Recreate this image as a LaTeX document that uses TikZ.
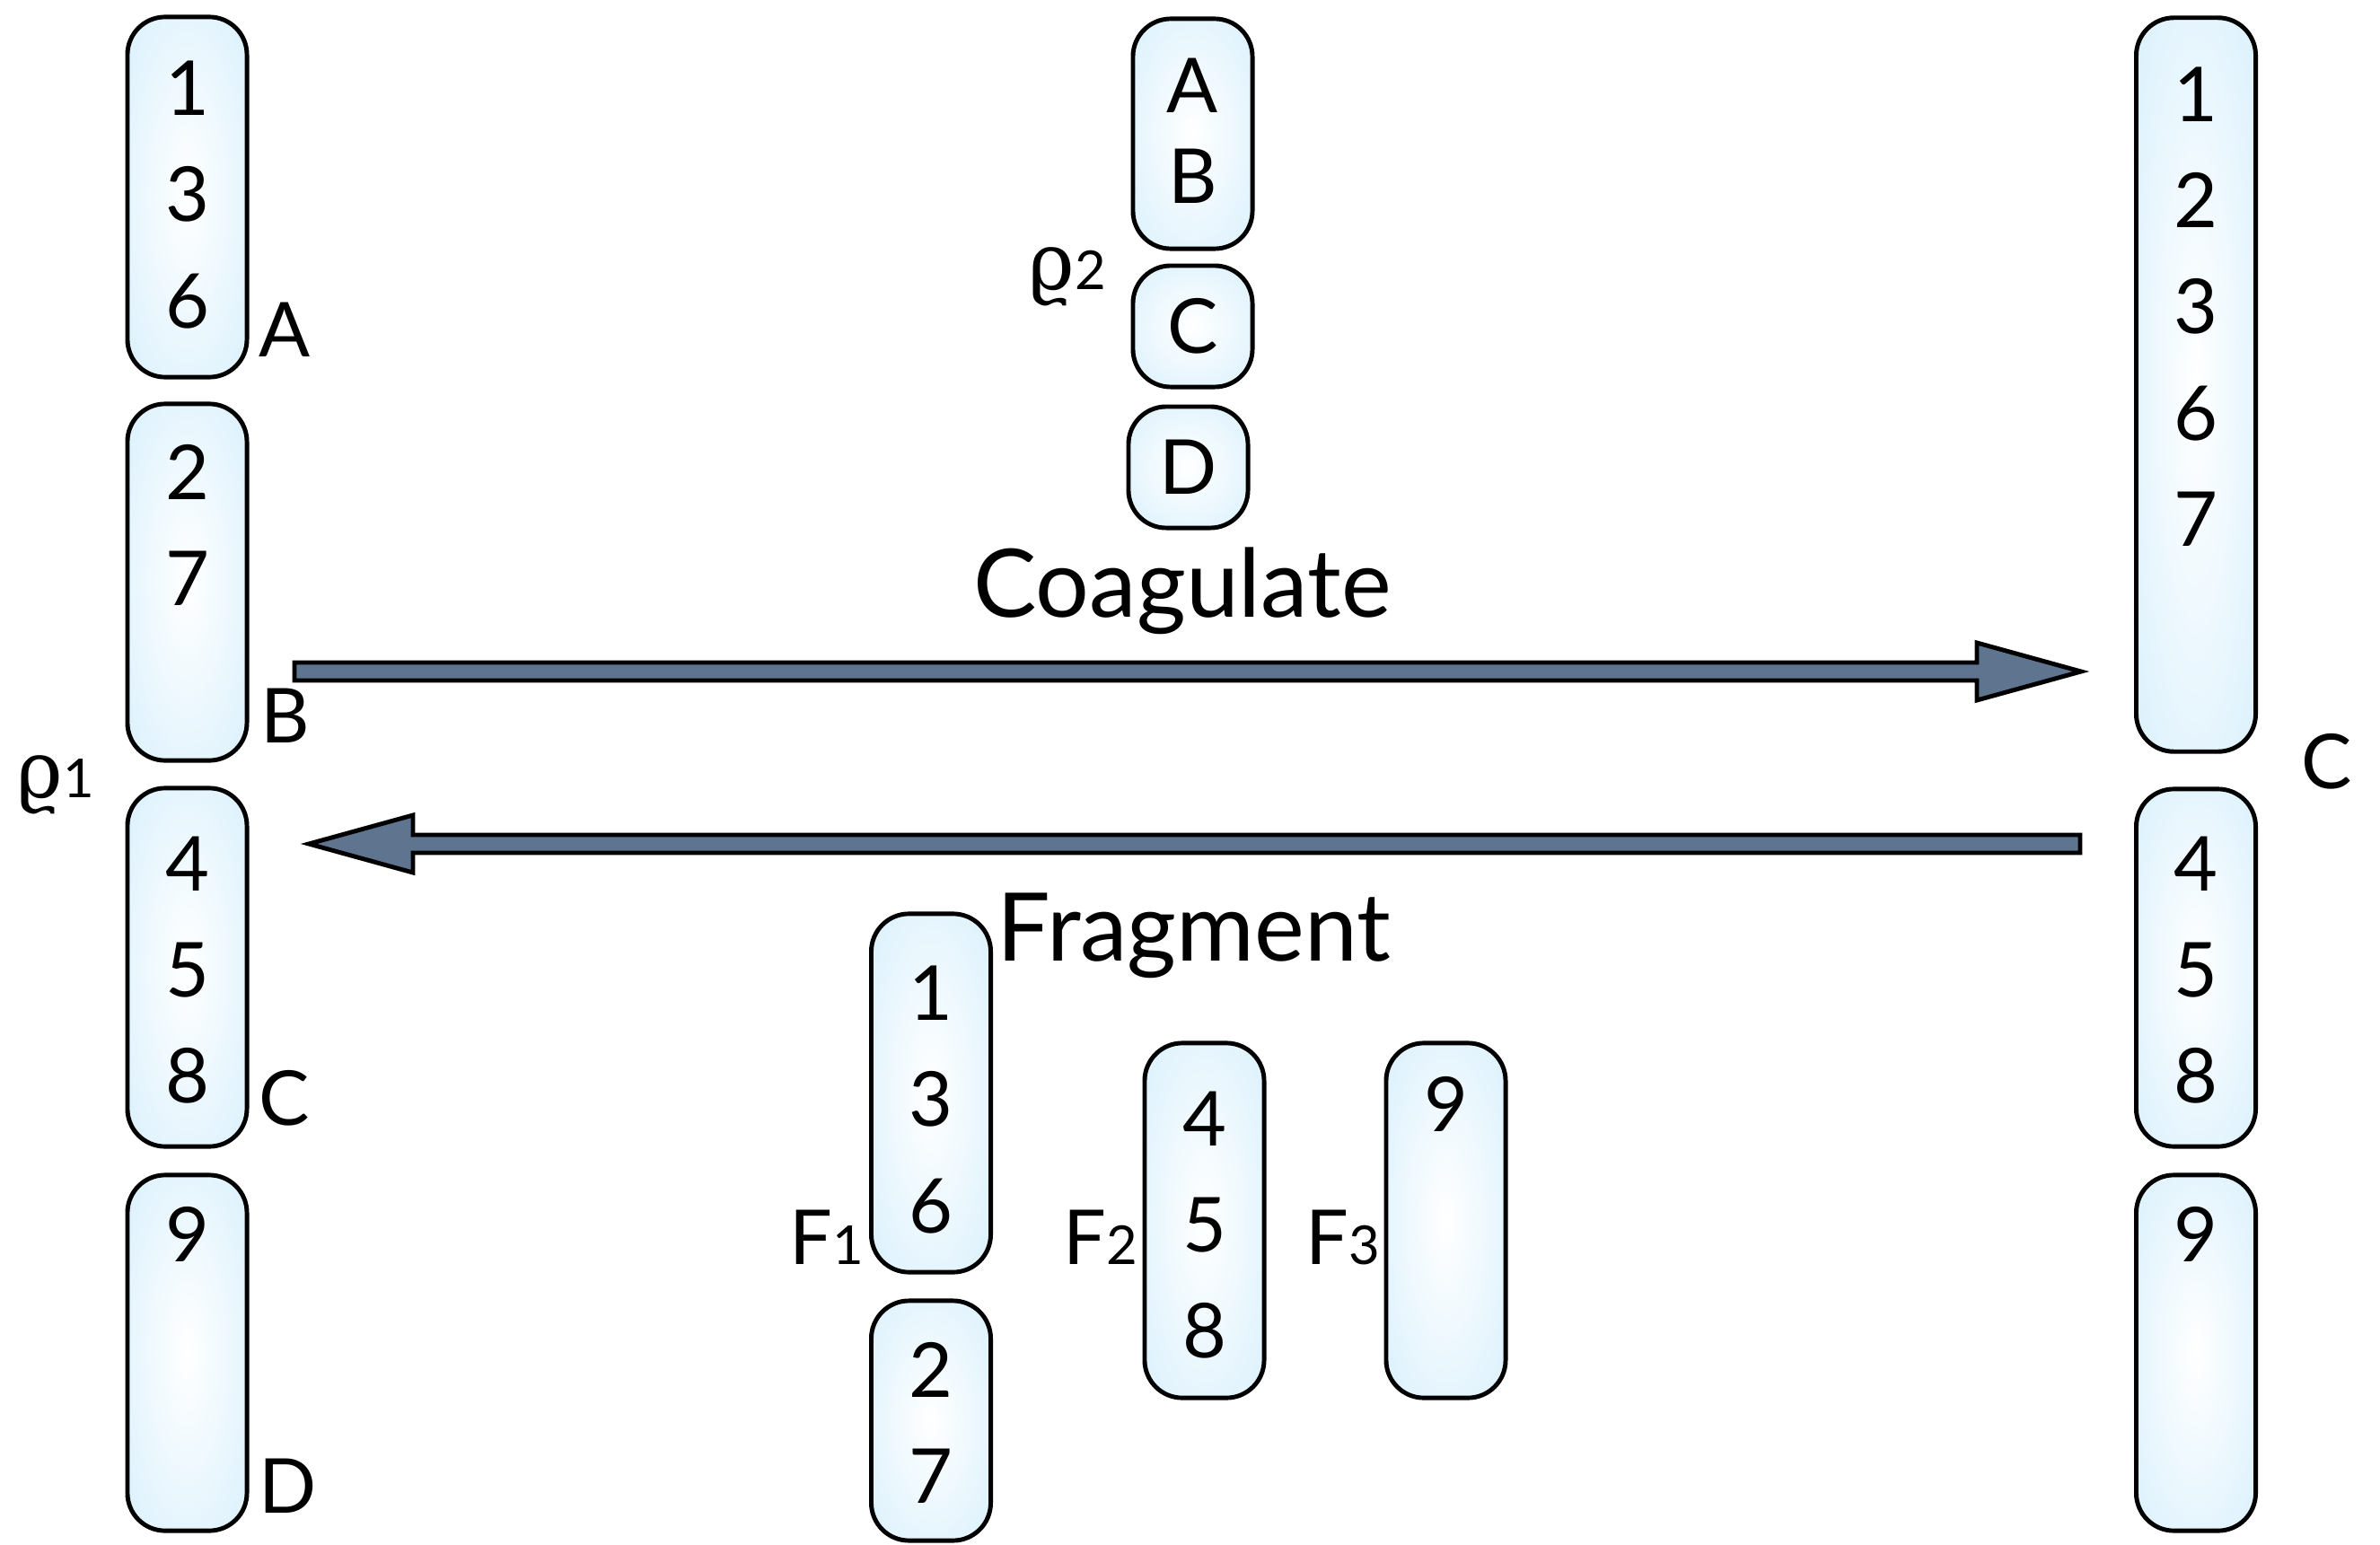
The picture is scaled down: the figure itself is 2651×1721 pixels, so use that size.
\RequirePackage{fix-cm}
\documentclass[tikz,border=0pt]{standalone}
\usepackage{fontspec}
\setmainfont{Lato}
\newfontfamily\rhofont{DejaVu Serif}
\usepackage{tikz}
\usetikzlibrary{positioning,calc}

\definecolor{segblue}{RGB}{214,239,252}
\definecolor{slate}{RGB}{94,116,143}
\pgfdeclareradialshading{glow}{\pgfpoint{0bp}{0bp}}{color(0bp)=(white); color(40bp)=(segblue); color(50bp)=(segblue)}

\newcommand{\segfont}{\fontsize{24}{33.6}\selectfont}
\newcommand{\opfont}{\fontsize{30}{36}\selectfont}
\newcommand{\low}[1]{{\fontsize{17}{20}\selectfont #1}}
\newcommand{\rhosym}{{\rhofont\fontsize{25}{30}\selectfont ϱ}}

\begin{document}
\begin{tikzpicture}[
  x=0.01cm, y=-0.01cm,
  seg/.style={draw, line width=1.4pt, rounded corners=0.42cm, shade, shading=glow,
    minimum width=1.33cm, inner sep=0pt, font=\segfont},
  digits/.style={align=center, inner sep=0pt, font=\segfont},
  tag/.style={inner sep=0pt, font=\segfont, anchor=base west},
  opname/.style={inner sep=0pt, font=\opfont, anchor=base},
  fat/.style={draw, line width=1.4pt, fill=slate, line join=miter}
]
\useasboundingbox (0,0) rectangle (2651,1721);

% partition rho1 (left)
\node[seg, minimum height=4.01cm] (L1) at (208.5,219.5) {};
\node[seg, minimum height=3.97cm] (L2) at (208.5,648.5) {};
\node[seg, minimum height=3.99cm] (L3) at (208.5,1077.5) {};
\node[seg, minimum height=3.96cm] (L4) at (208.5,1507) {};
\node[digits, below=0.51cm of L1.north] (L1d) {1\\3\\6};
\node[digits, below=0.47cm of L2.north] (L2d) {2\\7};
\node[digits, below=0.56cm of L3.north] (L3d) {4\\5\\8};
\node[digits, below=0.37cm of L4.north] (L4d) {9};
\node[tag] (tA) at ($(L1.south east)+(10,-25)$) {A};
\node[tag] (tB) at ($(L2.south east)+(12,-22)$) {B};
\node[tag] (tC) at ($(L3.south east)+(10,-26)$) {C};
\node[tag] (tD) at ($(L4.south east)+(10,-22)$) {D};
\node[tag] (rho1) at (18,888) {\rhosym\low{1}};

% partition rho2 (middle top)
\node[seg, minimum height=2.56cm] (MAB) at (1328.5,149) {};
\node[digits, below=0.46cm of MAB.north, font=\fontsize{24}{28.7}\selectfont] (MABd) {A\\B};
\node[seg, minimum height=1.35cm] (MC) at (1328.5,363.5) {C};
\node[seg, minimum height=1.35cm] (MD) at (1323.5,520.5) {D};
\node[tag] (rho2) at (1145,322) {\rhosym\low{2}};

% coagulated partition (right)
\node[seg, minimum height=8.17cm] (R1) at (2446,428.5) {};
\node[seg, minimum height=3.98cm] (R2) at (2446,1078) {};
\node[seg, minimum height=3.96cm] (R3) at (2446,1507) {};
\node[digits, below=0.57cm of R1.north] (R1d) {1\\2\\3\\6\\7};
\node[digits, below=0.55cm of R2.north] (R2d) {4\\5\\8};
\node[digits, below=0.37cm of R3.north] (R3d) {9};
\node[tag] (tC2) at (2563,878) {C};

% fragments (middle bottom)
\node[seg, minimum height=3.99cm] (F1) at (1037,1217.5) {};
\node[seg, minimum height=2.67cm] (F1b) at (1037,1582.5) {};
\node[seg, minimum height=3.95cm] (F2) at (1341.5,1359.5) {};
\node[seg, minimum height=3.95cm] (F3) at (1610.5,1359.5) {};
\node[digits, below=0.6cm of F1.north] (F1d) {1\\3\\6};
\node[digits, below=0.48cm of F1b.north] (F1bd) {2\\7};
\node[digits, below=0.56cm of F2.north] (F2d) {4\\5\\8};
\node[digits, below=0.39cm of F3.north] (F3d) {9};
\node[tag, anchor=base east] (tF1) at (963,1408) {F\low{1}};
\node[tag, anchor=base east] (tF2) at (1268,1408) {F\low{2}};
\node[tag, anchor=base east] (tF3) at (1538,1408) {F\low{3}};

% operations
\coordinate (cgS) at (328,748);
\coordinate (cgE) at (2318,748);
\coordinate (frS) at (2317,940);
\coordinate (frE) at (344,940);
\filldraw[fat] ($(cgS)+(0,-10)$) -- ($(cgE)+(-116,-10)$) -- ($(cgE)+(-116,-32)$) -- (cgE)
  -- ($(cgE)+(-116,32)$) -- ($(cgE)+(-116,10)$) -- ($(cgS)+(0,10)$) -- cycle;
\filldraw[fat] ($(frS)+(0,-10)$) -- ($(frE)+(116,-10)$) -- ($(frE)+(116,-32)$) -- (frE)
  -- ($(frE)+(116,32)$) -- ($(frE)+(116,10)$) -- ($(frS)+(0,10)$) -- cycle;
\node[opname] (coag) at (1317,687) {Coagulate};
\node[opname] (frag) at (1330,1070) {Fragment};
\end{tikzpicture}
\end{document}
